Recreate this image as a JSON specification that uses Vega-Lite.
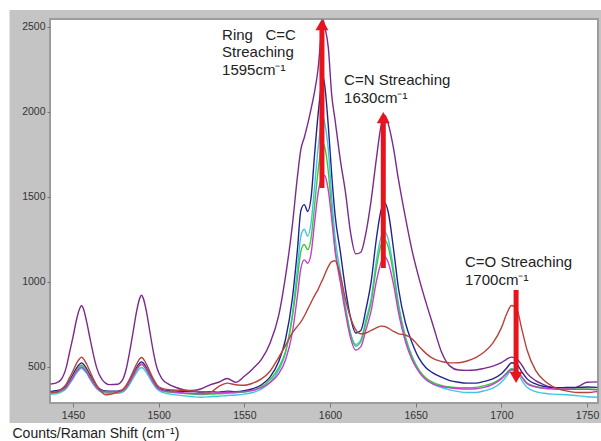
{
  "$schema": "https://vega.github.io/schema/vega-lite/v6.json",
  "width": 548,
  "height": 384,
  "autosize": {"type": "none"},
  "padding": {"left": 50, "top": 19, "right": 3, "bottom": 38},
  "background": "white",
  "config": {"view": {"stroke": null}, "font": "Liberation Sans"},
  "datasets": {
    "frame": [{"x": 1413, "x2": 1775, "y": 171, "y2": 2600}],
    "plot": [{"x": 1436.6, "x2": 1756.4, "y": 288, "y2": 2547}],
    "spectra": [
      {"x":1437,"p":400,"n":355,"c":340,"g":345,"m":350,"r":350},
      {"x":1440,"p":405,"n":360,"c":342,"g":348,"m":352,"r":352},
      {"x":1443,"p":425,"n":366,"c":352,"g":359,"m":361,"r":368},
      {"x":1446,"p":495,"n":388,"c":372,"g":381,"m":380,"r":398},
      {"x":1448,"p":585,"n":420,"c":400,"g":411,"m":409,"r":437},
      {"x":1450,"p":675,"n":455,"c":430,"g":443,"m":439,"r":476},
      {"x":1452,"p":775,"n":492,"c":464,"g":479,"m":472,"r":520},
      {"x":1454,"p":845,"n":517,"c":486,"g":504,"m":494,"r":550},
      {"x":1455,"p":862,"n":524,"c":492,"g":510,"m":500,"r":558},
      {"x":1456,"p":845,"n":517,"c":486,"g":504,"m":494,"r":550},
      {"x":1458,"p":765,"n":489,"c":462,"g":477,"m":470,"r":516},
      {"x":1460,"p":665,"n":452,"c":428,"g":440,"m":436,"r":472},
      {"x":1462,"p":570,"n":415,"c":396,"g":406,"m":404,"r":427},
      {"x":1464,"p":490,"n":386,"c":370,"g":378,"m":378,"r":390},
      {"x":1467,"p":425,"n":364,"c":350,"g":358,"m":359,"r":350},
      {"x":1469,"p":405,"n":359,"c":346,"g":353,"m":355,"r":336},
      {"x":1471,"p":396,"n":358,"c":345,"g":352,"m":354,"r":338},
      {"x":1476,"p":398,"n":358,"c":345,"g":352,"m":354,"r":352},
      {"x":1479,"p":425,"n":365,"c":352,"g":359,"m":361,"r":368},
      {"x":1481,"p":485,"n":384,"c":368,"g":376,"m":379,"r":392},
      {"x":1483,"p":585,"n":416,"c":397,"g":407,"m":410,"r":428},
      {"x":1485,"p":700,"n":455,"c":431,"g":443,"m":447,"r":470},
      {"x":1487,"p":820,"n":494,"c":466,"g":480,"m":484,"r":514},
      {"x":1489,"p":905,"n":523,"c":491,"g":508,"m":511,"r":548},
      {"x":1490,"p":922,"n":530,"c":497,"g":514,"m":518,"r":556},
      {"x":1491,"p":905,"n":523,"c":491,"g":508,"m":511,"r":548},
      {"x":1493,"p":820,"n":494,"c":466,"g":480,"m":484,"r":514},
      {"x":1495,"p":700,"n":455,"c":431,"g":443,"m":447,"r":470},
      {"x":1497,"p":585,"n":416,"c":397,"g":407,"m":410,"r":428},
      {"x":1499,"p":495,"n":386,"c":370,"g":379,"m":381,"r":395},
      {"x":1502,"p":430,"n":367,"c":352,"g":360,"m":362,"r":374},
      {"x":1506,"p":398,"n":360,"c":342,"g":352,"m":355,"r":366},
      {"x":1510,"p":380,"n":358,"c":336,"g":348,"m":352,"r":364},
      {"x":1515,"p":365,"n":357,"c":330,"g":343,"m":347,"r":362},
      {"x":1520,"p":362,"n":355,"c":325,"g":340,"m":344,"r":358},
      {"x":1525,"p":372,"n":352,"c":322,"g":338,"m":342,"r":355},
      {"x":1530,"p":395,"n":355,"c":325,"g":340,"m":345,"r":352},
      {"x":1535,"p":410,"n":352,"c":328,"g":342,"m":348,"r":385},
      {"x":1540,"p":432,"n":358,"c":332,"g":345,"m":350,"r":405},
      {"x":1545,"p":410,"n":355,"c":335,"g":348,"m":352,"r":395},
      {"x":1550,"p":445,"n":360,"c":340,"g":352,"m":355,"r":392},
      {"x":1555,"p":490,"n":372,"c":350,"g":362,"m":362,"r":405},
      {"x":1560,"p":545,"n":395,"c":370,"g":385,"m":378,"r":430},
      {"x":1565,"p":640,"n":440,"c":410,"g":425,"m":408,"r":475},
      {"x":1570,"p":800,"n":530,"c":480,"g":495,"m":460,"r":555},
      {"x":1574,"p":1030,"n":660,"c":580,"g":590,"m":540,"r":625},
      {"x":1578,"p":1330,"n":900,"c":810,"g":790,"m":700,"r":700},
      {"x":1581,"p":1620,"n":1190,"c":1080,"g":1020,"m":920,"r":740},
      {"x":1583,"p":1780,"n":1420,"c":1270,"g":1180,"m":1080,"r":765},
      {"x":1585,"p":1850,"n":1455,"c":1310,"g":1220,"m":1130,"r":800},
      {"x":1587,"p":1930,"n":1415,"c":1270,"g":1190,"m":1110,"r":840},
      {"x":1589,"p":2020,"n":1500,"c":1350,"g":1260,"m":1170,"r":880},
      {"x":1591,"p":2120,"n":1750,"c":1560,"g":1450,"m":1350,"r":920},
      {"x":1593,"p":2250,"n":1980,"c":1780,"g":1650,"m":1520,"r":955},
      {"x":1595,"p":2470,"n":2160,"c":1940,"g":1790,"m":1610,"r":1000},
      {"x":1596,"p":2540,"n":2205,"c":1970,"g":1815,"m":1630,"r":1020},
      {"x":1597,"p":2500,"n":2150,"c":1930,"g":1790,"m":1625,"r":1045},
      {"x":1599,"p":2380,"n":1920,"c":1780,"g":1650,"m":1540,"r":1090},
      {"x":1601,"p":2100,"n":1630,"c":1500,"g":1420,"m":1370,"r":1120},
      {"x":1603,"p":1950,"n":1390,"c":1260,"g":1200,"m":1180,"r":1125},
      {"x":1606,"p":1720,"n":1180,"c":1060,"g":1020,"m":1000,"r":1040},
      {"x":1609,"p":1530,"n":960,"c":860,"g":840,"m":820,"r":900},
      {"x":1612,"p":1290,"n":790,"c":700,"g":690,"m":670,"r":790},
      {"x":1615,"p":1165,"n":700,"c":632,"g":622,"m":600,"r":720},
      {"x":1618,"p":1175,"n":715,"c":660,"g":650,"m":620,"r":695},
      {"x":1621,"p":1290,"n":840,"c":780,"g":760,"m":720,"r":700},
      {"x":1624,"p":1480,"n":1000,"c":900,"g":880,"m":830,"r":715},
      {"x":1627,"p":1720,"n":1250,"c":1120,"g":1080,"m":1000,"r":730},
      {"x":1630,"p":1930,"n":1430,"c":1270,"g":1225,"m":1120,"r":740},
      {"x":1632,"p":1980,"n":1465,"c":1294,"g":1247,"m":1147,"r":738},
      {"x":1634,"p":1930,"n":1410,"c":1250,"g":1205,"m":1115,"r":728},
      {"x":1637,"p":1790,"n":1200,"c":1080,"g":1050,"m":990,"r":710},
      {"x":1640,"p":1600,"n":960,"c":870,"g":850,"m":820,"r":695},
      {"x":1644,"p":1380,"n":760,"c":680,"g":670,"m":650,"r":688},
      {"x":1648,"p":1180,"n":640,"c":560,"g":555,"m":540,"r":665},
      {"x":1652,"p":1020,"n":550,"c":480,"g":480,"m":470,"r":620},
      {"x":1656,"p":880,"n":495,"c":430,"g":435,"m":425,"r":580},
      {"x":1660,"p":750,"n":465,"c":400,"g":410,"m":400,"r":550},
      {"x":1665,"p":590,"n":440,"c":380,"g":392,"m":385,"r":532},
      {"x":1670,"p":505,"n":420,"c":365,"g":382,"m":378,"r":524},
      {"x":1675,"p":482,"n":410,"c":355,"g":378,"m":372,"r":525},
      {"x":1680,"p":480,"n":405,"c":350,"g":378,"m":370,"r":535},
      {"x":1685,"p":482,"n":405,"c":350,"g":380,"m":372,"r":555},
      {"x":1690,"p":492,"n":415,"c":360,"g":390,"m":380,"r":588},
      {"x":1695,"p":505,"n":430,"c":375,"g":405,"m":398,"r":640},
      {"x":1700,"p":525,"n":460,"c":410,"g":435,"m":430,"r":730},
      {"x":1703,"p":545,"n":492,"c":445,"g":465,"m":460,"r":810},
      {"x":1706,"p":558,"n":525,"c":480,"g":490,"m":485,"r":862},
      {"x":1709,"p":548,"n":515,"c":470,"g":480,"m":478,"r":840},
      {"x":1712,"p":510,"n":470,"c":420,"g":440,"m":440,"r":720},
      {"x":1715,"p":462,"n":430,"c":380,"g":405,"m":402,"r":600},
      {"x":1720,"p":420,"n":400,"c":355,"g":385,"m":382,"r":480},
      {"x":1725,"p":395,"n":385,"c":345,"g":375,"m":375,"r":420},
      {"x":1730,"p":375,"n":380,"c":340,"g":372,"m":372,"r":385},
      {"x":1735,"p":368,"n":378,"c":338,"g":372,"m":370,"r":365},
      {"x":1740,"p":368,"n":380,"c":335,"g":372,"m":370,"r":355},
      {"x":1745,"p":385,"n":380,"c":330,"g":370,"m":368,"r":350},
      {"x":1750,"p":410,"n":382,"c":325,"g":370,"m":368,"r":350},
      {"x":1756,"p":412,"n":380,"c":322,"g":368,"m":366,"r":355}
    ],
    "shafts": [
      {"x": 1595.3, "y": 1553, "y2": 2495},
      {"x": 1631.1, "y": 1082, "y2": 1950},
      {"x": 1708.6, "y": 953, "y2": 455}
    ],
    "heads": [
      {"x": 1595.3, "y": 2514, "sh": "triangle-up"},
      {"x": 1631.1, "y": 1967, "sh": "triangle-up"},
      {"x": 1708.6, "y": 439, "sh": "triangle-down"}
    ],
    "notes": [
      {"x": 1537, "y": 2424, "t": "Ring\u00a0\u00a0\u00a0C=C"},
      {"x": 1537, "y": 2324, "t": "Streaching"},
      {"x": 1537, "y": 2218, "t": "1595cm⁻¹"},
      {"x": 1608.2, "y": 2159, "t": "C=N Streaching"},
      {"x": 1608.2, "y": 2053, "t": "1630cm⁻¹"},
      {"x": 1678.8, "y": 1088, "t": "C=O Streaching"},
      {"x": 1678.8, "y": 982, "t": "1700cm⁻¹"}
    ]
  },
  "encoding": {
    "x": {
      "field": "x", "type": "quantitative",
      "scale": {"domain": [1436.6, 1756.4], "nice": false, "zero": false},
      "axis": {
        "values": [1450, 1500, 1550, 1600, 1650, 1700, 1750],
        "format": "d", "grid": false, "domain": false,
        "labelFontSize": 10.5, "labelColor": "#333333",
        "tickColor": "#777777", "tickSize": 4, "labelPadding": 3,
        "title": "Counts/Raman Shift (cm⁻¹)",
        "titleFontSize": 14, "titleFontWeight": "normal", "titleColor": "#222222",
        "titleAnchor": "start", "titleAlign": "left", "titleBaseline": "alphabetic",
        "titleX": -38, "titleY": 34, "zindex": 1
      }
    },
    "y": {
      "field": "y", "type": "quantitative",
      "scale": {"domain": [288, 2547], "nice": false, "zero": false},
      "axis": {
        "values": [500, 1000, 1500, 2000, 2500],
        "format": "d", "grid": false, "domain": false,
        "labelFontSize": 10.5, "labelColor": "#333333",
        "tickColor": "#777777", "tickSize": 3, "labelPadding": 2,
        "title": null, "zindex": 1
      }
    }
  },
  "layer": [
    {
      "data": {"name": "frame"},
      "mark": {"type": "rect", "color": "#c4c4c4", "clip": false},
      "encoding": {"x2": {"field": "x2"}, "y2": {"field": "y2"}}
    },
    {
      "data": {"name": "plot"},
      "mark": {"type": "rect", "fill": "white", "stroke": "#9c9c9c", "strokeWidth": 2, "clip": false},
      "encoding": {"x2": {"field": "x2"}, "y2": {"field": "y2"}}
    },
    {
      "data": {"name": "spectra"},
      "transform": [{"fold": ["p", "n", "c", "g", "m", "r"], "as": ["s", "y"]}],
      "mark": {"type": "line", "interpolate": "monotone", "strokeWidth": 1.4, "clip": true},
      "encoding": {
        "color": {
          "field": "s", "type": "nominal",
          "scale": {"domain": ["p", "n", "c", "g", "m", "r"],
                    "range": ["#7b2a8c", "#23238e", "#3fc6e6", "#3cc83c", "#c43fcc", "#b8433a"]},
          "legend": null
        }
      }
    },
    {
      "data": {"name": "shafts"},
      "mark": {"type": "rule", "color": "#e8141c", "strokeWidth": 5, "strokeCap": "butt"},
      "encoding": {"y2": {"field": "y2"}}
    },
    {
      "data": {"name": "heads"},
      "mark": {"type": "point", "filled": true, "color": "#e8141c", "opacity": 1, "size": 169},
      "encoding": {"shape": {"field": "sh", "type": "nominal", "scale": null}}
    },
    {
      "data": {"name": "notes"},
      "mark": {"type": "text", "align": "left", "baseline": "alphabetic", "fontSize": 15, "color": "#222222", "font": "Liberation Sans"},
      "encoding": {"text": {"field": "t", "type": "nominal"}}
    }
  ]
}
